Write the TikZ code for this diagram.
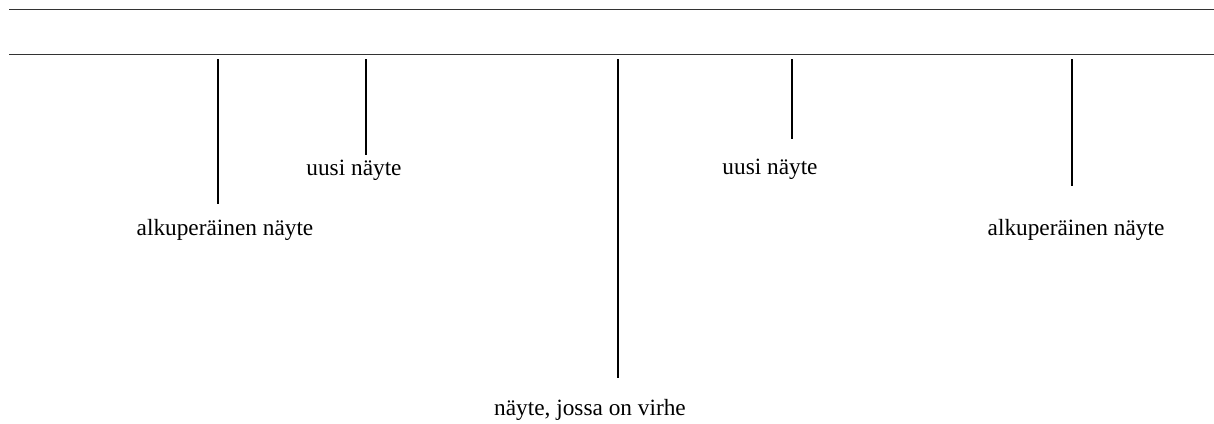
\documentclass[tikz,border=0pt]{standalone}
\usepackage{fontspec}
\setmainfont{Liberation Serif}
\begin{document}
\begin{tikzpicture}[x=1pt,y=-1pt,
  rule/.style={draw=black!80,line width=1pt},
  tick/.style={draw=black,line width=2pt},
  lbl/.style={font=\fontsize{23.3}{25}\selectfont,anchor=base,inner sep=0pt}]
\useasboundingbox (0,0) rectangle (1214,423);
\coordinate (r1a) at (9,9); \coordinate (r1b) at (1214,9);
\coordinate (r2a) at (9,54); \coordinate (r2b) at (1214,54);
\draw[rule] (r1a) -- (r1b);
\draw[rule] (r2a) -- (r2b);
\coordinate (t1a) at (218,59); \coordinate (t1b) at (218,204);
\coordinate (t2a) at (366,59); \coordinate (t2b) at (366,155);
\coordinate (t3a) at (618,59); \coordinate (t3b) at (618,378);
\coordinate (t4a) at (792,59); \coordinate (t4b) at (792,139);
\coordinate (t5a) at (1072,59); \coordinate (t5b) at (1072,186);
\draw[tick] (t1a) -- (t1b);
\draw[tick] (t2a) -- (t2b);
\draw[tick] (t3a) -- (t3b);
\draw[tick] (t4a) -- (t4b);
\draw[tick] (t5a) -- (t5b);
\node[lbl] (l1) at (225,235) {alkuperäinen näyte};
\node[lbl] (l2) at (354,175) {uusi näyte};
\node[lbl] (l3) at (590,415) {näyte, jossa on virhe};
\node[lbl] (l4) at (770,174) {uusi näyte};
\node[lbl] (l5) at (1076,235) {alkuperäinen näyte};
\end{tikzpicture}
\end{document}
